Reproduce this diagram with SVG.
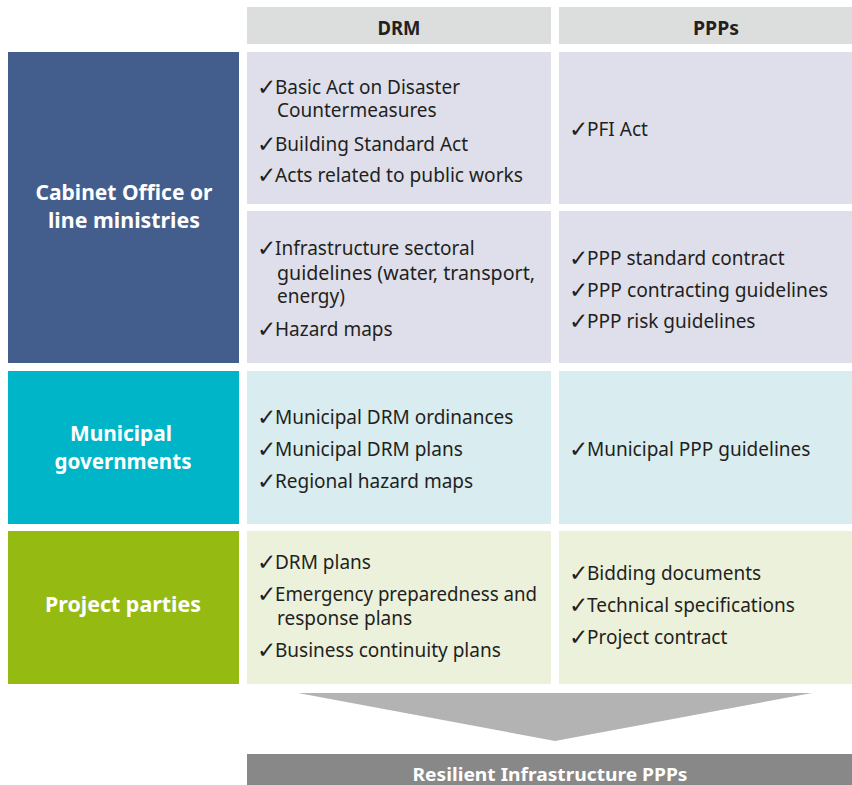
<svg xmlns="http://www.w3.org/2000/svg" width="852" height="785" viewBox="0 0 852 785">
<style>
.t{font-family:"Noto Sans","DejaVu Sans",sans-serif;font-size:19px;fill:#231f20}
.k{font-family:"DejaVu Sans",sans-serif;font-size:23px;font-weight:bold;fill:#231f20}
.h{font-family:"Noto Sans","DejaVu Sans",sans-serif;font-size:19px;font-weight:bold;fill:#231f20;text-anchor:middle}
.l{font-family:"Noto Sans","DejaVu Sans",sans-serif;font-size:22px;font-weight:bold;fill:#ffffff;text-anchor:middle}
.b{font-family:"Noto Sans","DejaVu Sans",sans-serif;font-size:18px;font-weight:bold;fill:#ffffff;text-anchor:middle}
.hd{fill:#dcdddd}
.c1{fill:#dfdfeb}
.c2{fill:#d9ecf0}
.c3{fill:#ecf1dc}
</style>
<rect width="852" height="785" fill="#ffffff"/>
<g id="header-drm"><rect class="hd" x="247" y="7" width="304" height="37"/><text class="h" x="399" y="35" textLength="43" lengthAdjust="spacingAndGlyphs">DRM</text></g>
<g id="header-ppps"><rect class="hd" x="559" y="7" width="293" height="37"/><text class="h" x="716" y="35" textLength="46" lengthAdjust="spacingAndGlyphs">PPPs</text></g>

<g id="row-cabinet"><rect x="8" y="52" width="231" height="311" fill="#435e8c"/>
<text class="l" x="124" y="200" textLength="177" lengthAdjust="spacingAndGlyphs">Cabinet Office or</text>
<text class="l" x="124" y="228" textLength="152" lengthAdjust="spacingAndGlyphs">line ministries</text></g>
<g id="row-municipal"><rect x="8" y="371" width="231" height="153" fill="#00b5c8"/>
<text class="l" x="121" y="441" textLength="102" lengthAdjust="spacingAndGlyphs">Municipal</text>
<text class="l" x="123" y="469" textLength="137" lengthAdjust="spacingAndGlyphs">governments</text></g>
<g id="row-project"><rect x="8" y="531" width="231" height="153" fill="#95bb13"/>
<text class="l" x="123" y="612" textLength="156" lengthAdjust="spacingAndGlyphs">Project parties</text></g>

<g id="cab-drm-1"><rect class="c1" x="247" y="52" width="304" height="152"/>
<text class="k" x="257" y="95">✓</text><text class="t" x="275" y="94" textLength="185" lengthAdjust="spacingAndGlyphs">Basic Act on Disaster</text>
<text class="t" x="277" y="117">Countermeasures</text>
<text class="k" x="257" y="152">✓</text><text class="t" x="275" y="151">Building Standard Act</text>
<text class="k" x="257" y="183">✓</text><text class="t" x="275" y="182" textLength="248" lengthAdjust="spacingAndGlyphs">Acts related to public works</text></g>
<g id="cab-ppp-1"><rect class="c1" x="559" y="52" width="293" height="152"/>
<text class="k" x="569" y="137">✓</text><text class="t" x="587" y="136">PFI Act</text></g>
<g id="cab-drm-2"><rect class="c1" x="247" y="211" width="304" height="152"/>
<text class="k" x="257" y="256">✓</text><text class="t" x="275" y="255">Infrastructure sectoral</text>
<text class="t" x="277" y="280" textLength="258" lengthAdjust="spacingAndGlyphs">guidelines (water, transport,</text>
<text class="t" x="277" y="303">energy)</text>
<text class="k" x="257" y="337">✓</text><text class="t" x="275" y="336">Hazard maps</text></g>
<g id="cab-ppp-2"><rect class="c1" x="559" y="211" width="293" height="152"/>
<text class="k" x="569" y="266">✓</text><text class="t" x="587" y="265">PPP standard contract</text>
<text class="k" x="569" y="298">✓</text><text class="t" x="587" y="297" textLength="241" lengthAdjust="spacingAndGlyphs">PPP contracting guidelines</text>
<text class="k" x="569" y="329">✓</text><text class="t" x="587" y="328">PPP risk guidelines</text></g>

<g id="mun-drm"><rect class="c2" x="247" y="371" width="304" height="153"/>
<text class="k" x="257" y="425">✓</text><text class="t" x="275" y="424">Municipal DRM ordinances</text>
<text class="k" x="257" y="457">✓</text><text class="t" x="275" y="456">Municipal DRM plans</text>
<text class="k" x="257" y="489">✓</text><text class="t" x="275" y="488">Regional hazard maps</text></g>
<g id="mun-ppp"><rect class="c2" x="559" y="371" width="293" height="153"/>
<text class="k" x="569" y="457">✓</text><text class="t" x="587" y="456">Municipal PPP guidelines</text></g>

<g id="proj-drm"><rect class="c3" x="247" y="531" width="304" height="153"/>
<text class="k" x="257" y="570">✓</text><text class="t" x="275" y="569">DRM plans</text>
<text class="k" x="257" y="602">✓</text><text class="t" x="275" y="601" textLength="262" lengthAdjust="spacingAndGlyphs">Emergency preparedness and</text>
<text class="t" x="277" y="625">response plans</text>
<text class="k" x="257" y="658">✓</text><text class="t" x="275" y="657">Business continuity plans</text></g>
<g id="proj-ppp"><rect class="c3" x="559" y="531" width="293" height="153"/>
<text class="k" x="569" y="581">✓</text><text class="t" x="587" y="580">Bidding documents</text>
<text class="k" x="569" y="613">✓</text><text class="t" x="587" y="612">Technical specifications</text>
<text class="k" x="569" y="645">✓</text><text class="t" x="587" y="644">Project contract</text></g>

<g id="connectors"><polygon points="298,693 812,693 555,741" fill="#b3b3b3"/></g>

<g id="result"><rect x="247" y="754" width="605" height="31" fill="#888888"/>
<text class="b" x="550" y="781" textLength="275" lengthAdjust="spacingAndGlyphs">Resilient Infrastructure PPPs</text></g>
</svg>
